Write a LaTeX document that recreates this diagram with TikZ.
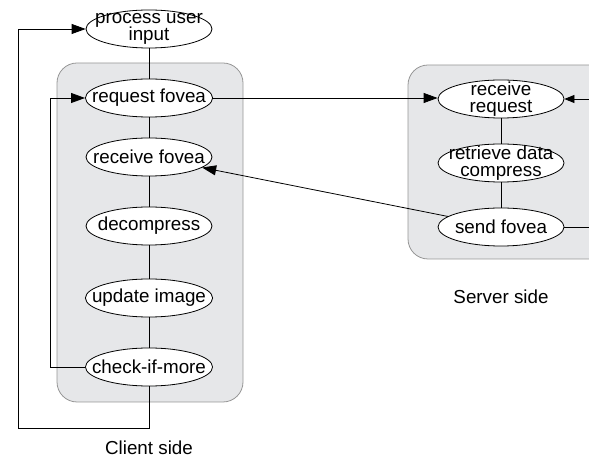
\documentclass[tikz,border=0pt]{standalone}
\usepackage{fontspec}
\setmainfont{Liberation Sans}
\usetikzlibrary{shapes.geometric,arrows.meta}
\definecolor{boxgray}{RGB}{230,231,233}
\definecolor{edgegray}{RGB}{150,150,150}
\tikzset{
    task/.style={ellipse, draw, fill=white, inner xsep=-6pt, inner ysep=-4.5pt,
        minimum width=63pt, minimum height=19pt, align=center,
        font=\fontsize{9.4}{8.8}\selectfont},
    side/.style={draw=edgegray, fill=boxgray, rounded corners=10pt},
    >={Triangle[length=7pt,width=5pt]}
}
\begin{document}
\begin{tikzpicture}[x=0.5pt, y=-0.5pt, font=\fontsize{9.4}{11}\selectfont]
        \useasboundingbox (0, 0) rectangle (589, 459);
        % grey panels
        \draw [side] (57, 63) rectangle (243, 402);
        \draw [side] (408, 65) rectangle (610, 259);
        % client side
        \node [task] (input) at (149, 29) {process user\\input};
        \node [task] (reqf) at (149, 98) {request fovea};
        \node [task] (recvf) at (149, 157) {receive fovea};
        \node [task] (decomp) at (149, 226) {decompress};
        \node [task] (update) at (149, 298) {update image};
        \node [task] (check) at (149, 367) {check-if-more};
        % server side
        \node [task] (recvr) at (501, 99) {receive\\request};
        \node [task] (retr) at (501, 163) {retrieve data\\compress};
        \node [task] (sendf) at (501, 227) {send fovea};
        \coordinate (outer) at (18, 428);
        \coordinate (edge) at (592, 227);
        \draw (input) -- (reqf);
        \draw (reqf) -- (recvf);
        \draw (recvf) -- (decomp);
        \draw (decomp) -- (update);
        \draw (update) -- (check);
        \draw (recvr) -- (retr);
        \draw (retr) -- (sendf);
        \draw [->] (check.west) -- ++(-35, 0) |- (reqf.west);
        \draw [->] (check.south) |- (outer) |- (input.west);
        \draw [->] (reqf.east) -- (reqf.east -| recvr.west);
        \draw [->] (sendf) -- (recvf);
        \draw [-{Triangle[length=5pt,width=4pt]}] (sendf.east) -- (edge) |- (recvr.east);
        \node (client) at (149, 448) {Client side};
        \node (server) at (501, 297) {Server side};
    \end{tikzpicture}
\end{document}
